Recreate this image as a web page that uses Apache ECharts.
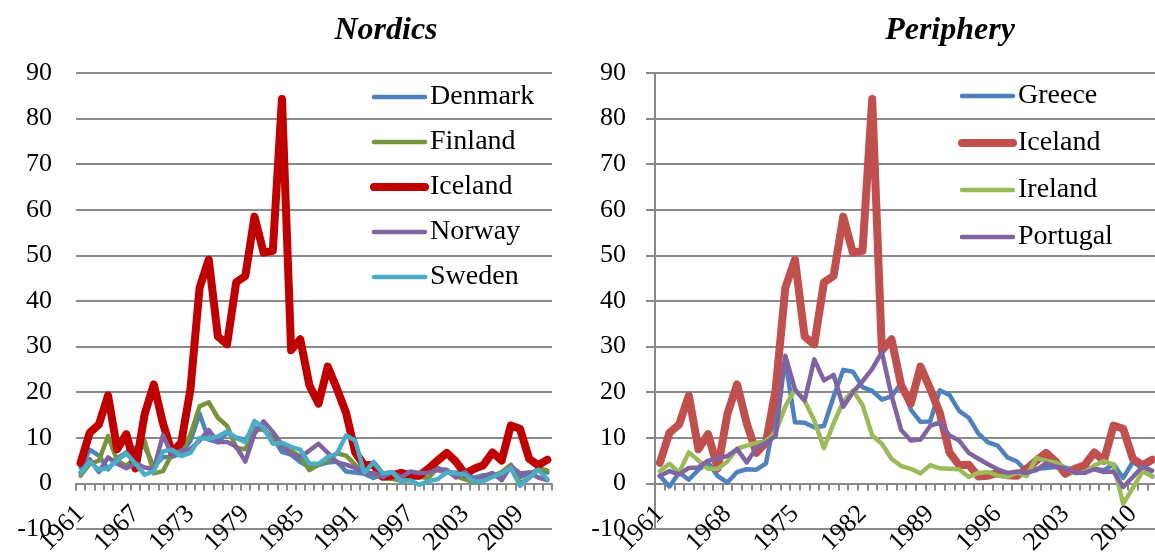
<!DOCTYPE html>
<html>
<head>
<meta charset="utf-8">
<script src="https://cdn.jsdelivr.net/npm/echarts@6/dist/echarts.min.js"></script>
<style>
html,body{margin:0;padding:0;background:#fff;}
#chart{width:1155px;height:558px;}
</style>
</head>
<body>
<div id="chart"></div>
<script>
// ---- data ----
const years = ['1961','1962','1963','1964','1965','1966','1967','1968','1969','1970',
  '1971','1972','1973','1974','1975','1976','1977','1978','1979','1980',
  '1981','1982','1983','1984','1985','1986','1987','1988','1989','1990',
  '1991','1992','1993','1994','1995','1996','1997','1998','1999','2000',
  '2001','2002','2003','2004','2005','2006','2007','2008','2009','2010',
  '2011','2012'];

const denmark = [3.5,7.4,6.1,3.1,5.5,6.8,7.9,8.2,3.6,5.8,5.8,6.6,9.3,15.3,9.6,9.0,11.1,10.0,9.6,12.3,
  11.7,10.1,6.9,6.3,4.7,3.6,4.0,4.6,4.8,2.6,2.4,2.1,1.2,2.0,2.1,2.1,2.2,1.8,2.5,2.9,
  2.4,2.4,2.1,1.2,1.8,1.9,1.7,3.4,1.3,2.3,2.8,2.4];
const finland = [1.7,4.3,5.0,10.4,5.0,3.9,5.5,9.3,2.2,2.7,6.5,7.1,10.7,16.9,17.8,14.4,12.6,7.8,7.5,11.6,
  12.0,9.6,8.4,7.1,5.9,2.9,4.1,5.1,6.6,6.1,4.1,2.6,2.1,1.1,1.0,0.6,1.2,1.4,1.2,3.4,
  2.6,1.6,0.9,0.2,0.9,1.6,2.5,4.1,0.0,1.2,3.4,2.8];
const iceland = [4.5,11.1,12.9,19.3,7.5,10.8,3.3,15.2,21.7,13.2,6.7,9.0,20.6,42.9,49.1,32.2,30.5,44.1,45.5,58.5,
  50.6,51.0,84.3,29.2,31.6,21.5,17.5,25.6,20.8,15.5,6.8,4.0,4.1,1.5,1.7,2.3,1.8,1.7,3.2,5.0,
  6.7,4.8,2.1,3.2,4.0,6.8,5.0,12.7,12.0,5.4,4.0,5.2];
const norway = [2.4,5.3,2.5,5.7,4.3,3.3,4.4,3.5,3.1,10.6,6.2,7.2,7.5,9.4,11.7,9.1,9.1,8.1,4.8,10.9,
  13.6,11.3,8.4,6.3,5.7,7.2,8.7,6.7,4.6,4.1,3.4,2.3,2.3,1.4,2.5,1.3,2.6,2.3,2.3,3.1,
  3.0,1.3,2.5,0.5,1.5,2.3,0.7,3.8,2.2,2.4,1.3,0.7];
const sweden = [2.2,4.8,2.9,3.4,5.0,6.6,4.3,1.9,2.7,7.0,7.4,6.0,6.7,9.9,9.8,10.3,11.4,10.0,9.0,13.7,
  12.2,8.7,8.9,8.0,7.4,4.3,4.3,5.8,6.5,10.5,9.4,2.3,4.7,2.2,2.5,0.5,0.7,-0.3,0.5,0.9,
  2.4,2.2,1.9,0.4,0.5,1.4,2.2,3.4,-0.5,1.2,3.0,0.9];

const greece = [1.7,-0.7,2.4,0.8,3.0,4.6,1.6,0.2,2.5,3.1,3.0,4.4,15.5,26.9,13.4,13.3,12.3,12.6,19.0,24.9,
  24.5,21.1,20.3,18.4,19.1,22.0,16.2,13.5,13.6,20.4,19.4,15.9,14.4,10.9,9.0,8.3,5.7,4.8,2.6,3.2,
  3.4,3.6,3.5,2.9,3.5,3.2,2.9,4.2,1.2,4.7,3.3,1.5];
const ireland = [2.7,4.3,2.4,6.8,5.0,3.2,3.2,4.8,7.6,8.3,8.9,9.2,11.3,16.9,20.6,18.1,13.8,7.7,13.2,17.9,
  20.4,17.2,10.5,8.7,5.4,3.8,3.2,2.2,4.0,3.3,3.2,3.1,1.4,2.3,2.5,1.7,1.4,2.4,1.6,5.6,
  4.9,4.6,3.5,2.2,2.4,3.9,4.9,4.1,-4.5,-1.0,2.6,1.6];
const portugal = [1.6,2.7,2.0,3.4,3.5,5.0,5.5,6.0,7.5,4.6,7.8,8.9,10.4,28.0,20.6,18.2,27.2,22.6,23.8,16.8,
  20.0,22.4,25.1,28.8,19.3,11.7,9.4,9.6,12.6,13.4,10.5,9.4,6.7,5.4,4.2,3.1,2.3,2.6,2.3,2.9,
  4.4,3.7,3.3,2.4,2.3,3.1,2.5,2.6,-0.8,1.4,3.7,2.8];

const yMin = -10, yMax = 90, yStep = 10;
const nordicNames = ['Denmark','Finland','Iceland','Norway','Sweden'];
const peripheryNames = ['Greece','Iceland ','Ireland','Portugal'];

// ---- styling ----
const FONT = "'Liberation Serif','Times New Roman',serif";
const GRID = '#8a8a8a';
const THIN = 4.5, THICK = 8;

function line(name, data, color, width, idx, z) {
  return {
    name: name, type: 'line', data: data,
    xAxisIndex: idx, yAxisIndex: idx,
    symbol: 'none', showSymbol: false, z: z,
    lineStyle: { color: color, width: width, cap: 'round', join: 'round' },
    itemStyle: { color: color },
    emphasis: { disabled: true },
    silent: true
  };
}

function xAxis(idx, interval) {
  return {
    type: 'category', gridIndex: idx, data: years, boundaryGap: true,
    axisLine: { onZero: true, lineStyle: { color: GRID, width: 2 } },
    axisTick: { show: true, interval: 0, length: 7, lineStyle: { color: GRID, width: 2 } },
    axisLabel: { interval: interval, rotate: 45, margin: -19, color: '#000',
      fontFamily: FONT, fontSize: 26 },
    splitLine: { show: false }
  };
}

function yAxis(idx, showLine, margin) {
  return {
    type: 'value', gridIndex: idx, min: yMin, max: yMax, interval: yStep,
    axisLine: { show: showLine, lineStyle: { color: GRID, width: 2 } },
    axisTick: { show: showLine, length: 9, lineStyle: { color: GRID, width: 2 } },
    axisLabel: { margin: margin, color: '#000', fontFamily: FONT, fontSize: 26 },
    splitLine: { show: true, lineStyle: { color: GRID, width: 2 } }
  };
}

function legend(names, left, top, gap) {
  return {
    data: names.map(function (n) {
      return { name: n, lineStyle: { width: n.trim() === 'Iceland' ? THICK : THIN, cap: 'round' } };
    }),
    orient: 'vertical', left: left, top: top, padding: 0,
    itemWidth: 51, itemHeight: 14, itemGap: gap, selectedMode: false,
    formatter: function (n) { return n.trim(); },
    textStyle: { fontFamily: FONT, fontSize: 28, color: '#000', lineHeight: 28 },
    itemStyle: { opacity: 0 },
    lineStyle: { cap: 'round' }
  };
}

const titleStyle = { fontFamily: FONT, fontSize: 32, fontWeight: 'bold', fontStyle: 'italic', color: '#000' };

const option = {
  animation: false,
  backgroundColor: '#fff',
  title: [
    { text: 'Nordics', left: 386, top: 15, padding: 0, textAlign: 'center', textStyle: titleStyle },
    { text: 'Periphery', left: 950, top: 15, padding: 0, textAlign: 'center', textStyle: titleStyle }
  ],
  legend: [
    legend(nordicNames, 370, 83, 17),
    legend(peripheryNames, 958, 82, 19)
  ],
  grid: [
    { left: 76, top: 73, width: 476, height: 456, outerBoundsMode: 'none', containLabel: false },
    { left: 655, top: 73, width: 502, height: 456, outerBoundsMode: 'none', containLabel: false }
  ],
  xAxis: [xAxis(0, 5), xAxis(1, 6)],
  yAxis: [yAxis(0, false, 24), yAxis(1, true, 29)],
  series: [
    line('Denmark', denmark, '#4F81BD', THIN, 0, 2),
    line('Finland', finland, '#77933C', THIN, 0, 3),
    line('Iceland', iceland, '#C00000', THICK, 0, 4),
    line('Norway', norway, '#8064A2', THIN, 0, 5),
    line('Sweden', sweden, '#4BACC6', THIN, 0, 6),
    line('Greece', greece, '#4F81BD', THIN, 1, 2),
    line('Iceland ', iceland, '#C0504D', THICK, 1, 3),
    line('Ireland', ireland, '#9BBB59', THIN, 1, 4),
    line('Portugal', portugal, '#8064A2', THIN, 1, 5)
  ]
};

const chart = echarts.init(document.getElementById('chart'), null, { renderer: 'canvas' });
chart.setOption(option);
</script>
</body>
</html>
